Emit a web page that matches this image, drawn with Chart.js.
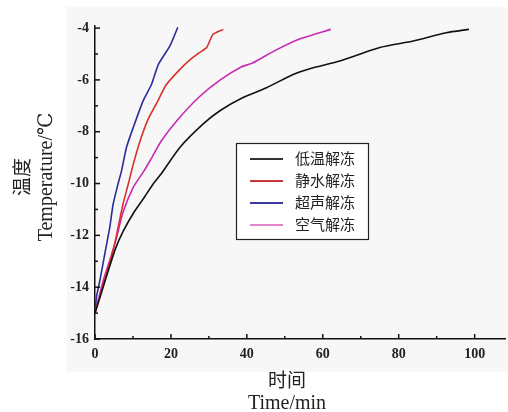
<!DOCTYPE html>
<html>
<head>
<meta charset="utf-8">
<script src="https://cdn.jsdelivr.net/npm/chart.js@4.4.1/dist/chart.umd.min.js"></script>
<style>
  html, body { margin: 0; padding: 0; background: #fff; }
  #wrap { width: 508px; height: 412px; }
</style>
</head>
<body>
<div id="wrap"><canvas id="chart" width="508" height="412"></canvas></div>
<script>
// series names (legend)
const seriesNames = ["低温解冻", "静水解冻", "超声解冻", "空气解冻"];

// time (min) and temperature (°C)
const lowTempTime = [0, 1.3, 3.1, 5.3, 7.4, 10.3, 13, 15.4, 17.4, 22.4, 28.5, 32.9, 39, 45.2, 52.2, 57, 64.5, 75, 83.8, 92.5, 98.5];
const lowTempVal  = [-15, -14.4, -13.55, -12.55, -11.85, -11.1, -10.53, -10.0, -9.63, -8.6, -7.7, -7.19, -6.68, -6.3, -5.79, -5.55, -5.27, -4.75, -4.5, -4.18, -4.05];

const stillWaterTime = [0, 2.2, 4.8, 6.1, 7.4, 8.8, 10, 11.6, 13.8, 16.6, 18.7, 22, 25, 27.5, 29.4, 31.1, 33.8];
const stillWaterVal  = [-15, -13.86, -12.58, -11.68, -10.78, -10.0, -9.3, -8.48, -7.58, -6.8, -6.2, -5.65, -5.23, -4.95, -4.75, -4.24, -4.05];

const ultrasonicTime = [0, 0.4, 1.3, 2.6, 3.9, 4.8, 6.1, 7.0, 8.3, 10.1, 12.7, 14.9, 16.7, 19.7, 21.8];
const ultrasonicVal  = [-15, -14.37, -13.73, -12.7, -11.68, -10.78, -10.0, -9.5, -8.6, -7.83, -6.8, -6.17, -5.4, -4.7, -3.97];

const airTime = [0, 2.2, 3.9, 5.7, 7.4, 10.1, 12.7, 14.5, 17.5, 22, 27.5, 33, 38.5, 41.5, 47.5, 53.9, 62.1];
const airVal  = [-15, -13.73, -12.96, -12.07, -11.1, -10.14, -9.56, -9.12, -8.35, -7.5, -6.65, -6.0, -5.5, -5.35, -4.86, -4.42, -4.05];

// tick labels
const xTickLabels = [0, 20, 40, 60, 80, 100];
const xMinorTicks = [10, 30, 50, 70, 90];
const yTickLabels = [-16, -14, -12, -10, -8, -6, -4];
const yMinorTicks = [-15, -13, -11, -9, -7, -5];

const lineColors   = ["#111111", "#d8302c", "#2c2c9c", "#c82ab4"];
const legendColors = ["#333333", "#c83838", "#3a3aa0", "#e286cc"];

function pts(xs, ys) {
  return xs.map((x, i) => ({ x: x, y: ys[i] }));
}

const seriesData = [
  pts(lowTempTime, lowTempVal),
  pts(stillWaterTime, stillWaterVal),
  pts(ultrasonicTime, ultrasonicVal),
  pts(airTime, airVal)
];

const serif = "'Liberation Serif', 'DejaVu Serif', serif";
const cjk = "'Noto Sans CJK SC', sans-serif";

// gray panel behind the plot, like the scanned figure
const panelBg = {
  id: "panelBg",
  beforeDraw(chart) {
    const { ctx, chartArea } = chart;
    ctx.save();
    ctx.fillStyle = "#f7f7f7";
    ctx.fillRect(chartArea.left - 28, 7, chart.width - (chartArea.left - 28), chartArea.bottom + 33 - 7);
    ctx.restore();
  }
};

// inward ticks (major + minor)
const innerTicks = {
  id: "innerTicks",
  afterDraw(chart) {
    const { ctx, chartArea, scales } = chart;
    ctx.save();
    ctx.strokeStyle = "#111";
    ctx.lineWidth = 1.5;
    const drawX = (v, len) => {
      const px = scales.x.getPixelForValue(v);
      ctx.beginPath();
      ctx.moveTo(px, chartArea.bottom);
      ctx.lineTo(px, chartArea.bottom - len);
      ctx.stroke();
    };
    const drawY = (v, len) => {
      const py = scales.y.getPixelForValue(v);
      ctx.beginPath();
      ctx.moveTo(chartArea.left, py);
      ctx.lineTo(chartArea.left + len, py);
      ctx.stroke();
    };
    xTickLabels.forEach(v => drawX(v, 5));
    xMinorTicks.forEach(v => drawX(v, 3));
    yTickLabels.forEach(v => drawY(v, 5));
    yMinorTicks.forEach(v => drawY(v, 3));
    ctx.restore();
  }
};

// boxed legend inside the plot
const boxLegend = {
  id: "boxLegend",
  afterDraw(chart) {
    const ctx = chart.ctx;
    const left = 236, top = 143, w = 132, h = 96;
    ctx.save();
    ctx.fillStyle = "#fff";
    ctx.fillRect(left, top, w, h);
    ctx.strokeStyle = "#222";
    ctx.lineWidth = 1.2;
    ctx.strokeRect(left + 0.5, top + 0.5, w, h);
    ctx.font = "15px " + cjk;
    ctx.textBaseline = "middle";
    chart.data.datasets.forEach((ds, i) => {
      const y = top + 15 + i * 22;
      ctx.strokeStyle = legendColors[i];
      ctx.lineWidth = 1.8;
      ctx.beginPath();
      ctx.moveTo(left + 14, y + 1);
      ctx.lineTo(left + 47, y + 1);
      ctx.stroke();
      ctx.fillStyle = "#222";
      ctx.fillText(ds.label, left + 59, y);
    });
    ctx.restore();
  }
};

// axis titles (two lines each: Chinese + English)
const axisTitles = {
  id: "axisTitles",
  afterDraw(chart) {
    const ctx = chart.ctx;
    ctx.save();
    ctx.fillStyle = "#222";
    ctx.textAlign = "center";
    ctx.textBaseline = "middle";
    ctx.font = "19px " + cjk;
    ctx.fillText("时间", 287, 380);
    ctx.font = "20px " + serif;
    ctx.fillText("Time/min", 287, 404);

    ctx.translate(22, 177);
    ctx.rotate(-Math.PI / 2);
    ctx.font = "19px " + cjk;
    ctx.fillText("温度", 0, 0);
    ctx.font = "20px " + serif;
    ctx.fillText("Temperature/℃", 0, 25);
    ctx.restore();
  }
};

const chart = new Chart(document.getElementById("chart").getContext("2d"), {
  type: "line",
  data: {
    datasets: seriesNames.map((name, i) => ({
      label: name,
      data: seriesData[i],
      borderColor: lineColors[i],
      borderWidth: 1.6,
      pointRadius: 0,
      tension: 0.2,
      fill: false
    }))
  },
  options: {
    responsive: false,
    animation: false,
    layout: { padding: { left: 0, right: 3, top: 26, bottom: 0 } },
    plugins: { legend: { display: false }, tooltip: { enabled: false } },
    scales: {
      x: {
        type: "linear",
        min: 0,
        max: 108,
        afterBuildTicks: s => { s.ticks = xTickLabels.map(v => ({ value: v })); },
        afterFit: s => { s.height = 73; },
        grid: { display: false, drawTicks: false },
        border: { display: true, color: "#111", width: 1.5 },
        ticks: {
          padding: 7,
          maxRotation: 0,
          color: "#222",
          font: { family: serif, size: 14, weight: "bold" }
        }
      },
      y: {
        type: "linear",
        min: -16,
        max: -3.92,
        afterBuildTicks: s => { s.ticks = yTickLabels.map(v => ({ value: v })); },
        afterFit: s => { s.width = 95; },
        grid: { display: false, drawTicks: false },
        border: { display: true, color: "#111", width: 1.5 },
        ticks: {
          padding: 6,
          color: "#222",
          font: { family: serif, size: 14, weight: "bold" }
        }
      }
    }
  },
  plugins: [panelBg, innerTicks, boxLegend, axisTitles]
});
</script>
</body>
</html>
